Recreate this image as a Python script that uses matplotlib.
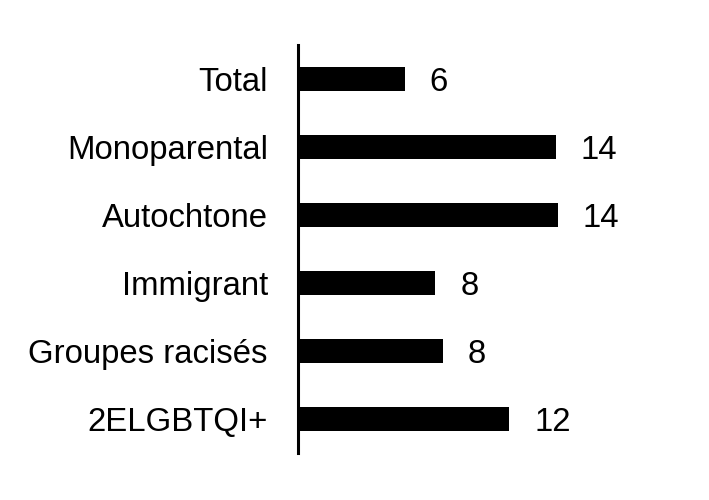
import matplotlib.pyplot as plt

# categories top to bottom, values (%)
categories = ['Total', 'Monoparental', 'Autochtone', 'Immigrant', 'Groupes racisés', '2ELGBTQI+']
values = [5.9, 14.3, 14.4, 7.6, 8.0, 11.7]

plt.rcParams['font.family'] = ['Liberation Sans', 'DejaVu Sans']

fig = plt.figure(figsize=(7.09, 5.0), dpi=100)
ax = fig.add_axes([0.421, 0.094, 0.539, 0.816])

ypos = list(range(len(categories)))[::-1]
ax.barh(ypos, values, height=0.353, color='black', zorder=2)

for y, v in zip(ypos, values):
    ax.annotate(f"{v:.0f}", xy=(v, y), xytext=(18, 0), textcoords='offset points',
                ha='left', va='center_baseline', fontsize=23.7)

ax.set_ylim(-0.5, len(categories) - 0.5)
ax.set_xlim(0, 382 / 18)
ax.set_yticks(ypos)
ax.set_yticklabels(categories, fontsize=23.7, va='center_baseline')
ax.tick_params(axis='y', length=0, pad=22)
ax.set_xticks([])

for side in ['top', 'right', 'bottom']:
    ax.spines[side].set_visible(False)
ax.spines['left'].set_linewidth(2.2)
ax.spines['left'].set_zorder(3)

fig.savefig('out.png', dpi=100)
